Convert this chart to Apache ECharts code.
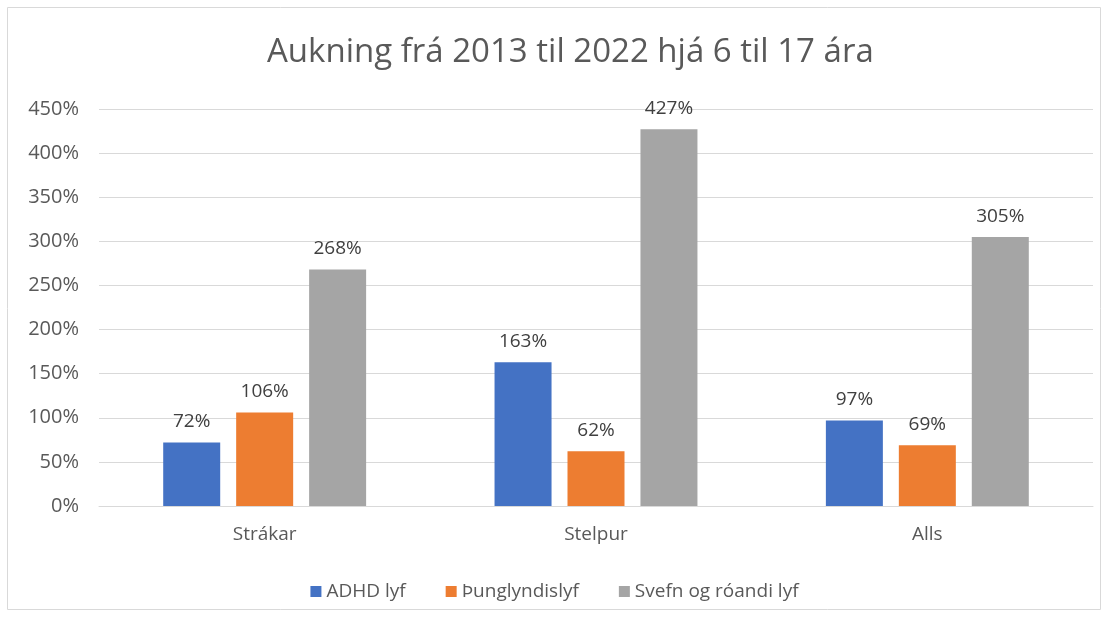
<!DOCTYPE html>
<html><head><meta charset="utf-8">
<script src="https://cdn.jsdelivr.net/npm/echarts@6/dist/echarts.min.js"></script>
<style>html,body{margin:0;padding:0;background:#fff}#c{width:1109px;height:618px}</style>
</head><body><div id="c"></div>
<script>
const title = 'Aukning frá 2013 til 2022 hjá 6 til 17 ára';
const categories = ['Strákar', 'Stelpur', 'Alls'];
const seriesNames = ['ADHD lyf', 'Þunglyndislyf', 'Svefn og róandi lyf'];
const adhd = [72, 163, 97];
const thunglyndi = [106, 62, 69];
const svefn = [268, 427, 305];
const colors = ['#4472C4', '#ED7D31', '#A5A5A5'];
const font = '"Open Sans", "Liberation Sans", sans-serif';

const chart = echarts.init(document.getElementById('c'));
const mk = (name, data, color) => ({
  name, type: 'bar', data, barWidth: 57, barGap: '28%',
  itemStyle: { color },
  label: { show: true, position: 'top', distance: 11, formatter: p => p.value + '%',
    color: '#404040', fontSize: 19, fontFamily: font }
});
chart.setOption({
  animation: false,
  color: colors,
  graphic: [{ type: 'rect', shape: { x: 7.5, y: 7.5, width: 1093, height: 602 },
    style: { fill: 'none', stroke: '#d9d9d9', lineWidth: 1 }, z: -1 }],
  title: { text: title, left: 262, top: 31,
    textStyle: { fontFamily: font, fontSize: 33, fontWeight: 'normal', color: '#595959' } },
  legend: { bottom: 12, left: 'center', itemWidth: 11, itemHeight: 11, itemGap: 40,
    icon: 'rect', textStyle: { fontFamily: font, fontSize: 19, color: '#595959' } },
  grid: { left: 99, right: 16, top: 109, bottom: 112 },
  xAxis: { type: 'category', data: categories,
    axisLine: { lineStyle: { color: '#d9d9d9' } }, axisTick: { show: false },
    axisLabel: { fontFamily: font, fontSize: 19, color: '#595959', margin: 19 } },
  yAxis: { type: 'value', min: 0, max: 450, interval: 50,
    axisLabel: { formatter: v => v + '%', fontFamily: font, fontSize: 20, color: '#595959', margin: 20 },
    splitLine: { lineStyle: { color: '#d9d9d9' } }, axisLine: { show: false } },
  series: [mk(seriesNames[0], adhd, colors[0]), mk(seriesNames[1], thunglyndi, colors[1]), mk(seriesNames[2], svefn, colors[2])]
});
</script></body></html>
